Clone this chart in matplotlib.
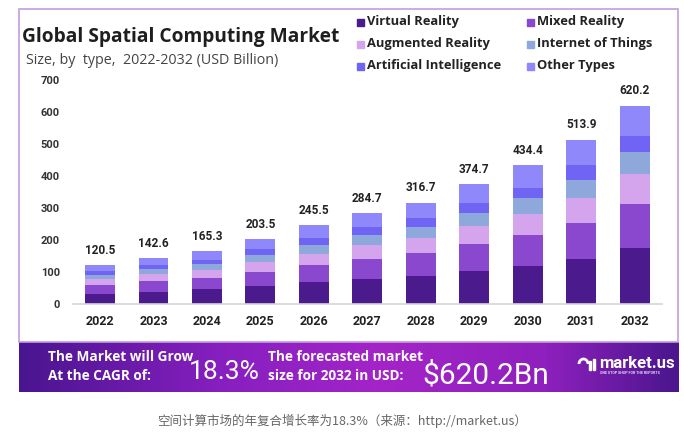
import numpy as np
import matplotlib
matplotlib.use('Agg')
import matplotlib.pyplot as plt
from matplotlib.patches import Rectangle, Arc
from matplotlib.colors import LinearSegmentedColormap

plt.rcParams['font.family'] = ['Roboto', 'DejaVu Sans']
OPEN = ['Open Sans', 'DejaVu Sans']

years = ['2022', '2023', '2024', '2025', '2026', '2027', '2028', '2029', '2030', '2031', '2032']
totals = [120.5, 142.6, 165.3, 203.5, 245.5, 284.7, 316.7, 374.7, 434.4, 513.9, 620.2]

# segment values (USD billion), bottom to top
virtual_reality = [32, 38.5, 45.5, 55, 68.5, 78, 89, 104.5, 119.5, 142, 174]
mixed_reality = [27, 32, 36, 45.5, 53.5, 63.5, 71, 84, 95, 112, 137]
augmented_reality = [19, 22.5, 25.5, 30.5, 34.5, 43, 47.5, 55.5, 67.5, 77, 94]
internet_of_things = [13, 16, 17, 22.5, 28, 30.5, 34.5, 40.5, 48.5, 56, 70]
artificial_intelligence = [13.5, 13.6, 15, 17, 21, 25.2, 26.2, 31.2, 33, 47, 50]
other_types = [16, 20, 26.3, 33, 40, 44.5, 48.5, 59, 71, 80, 95.2]

series = [virtual_reality, mixed_reality, augmented_reality,
          internet_of_things, artificial_intelligence, other_types]
names = ['Virtual Reality', 'Mixed Reality', 'Augmented Reality',
         'Internet of Things', 'Artificial Intelligence', 'Other Types']
colors = ['#4b1a8c', '#8a48cf', '#d4a5ec', '#8fa8dc', '#7064f5', '#8e88fb']

W, H = 684, 437

def fx(x):
    return x / W

def fy(y):
    return 1 - y / H

fig = plt.figure(figsize=(W / 100, H / 100), dpi=100)

# card border
fig.patches.append(Rectangle((fx(19), fy(342)), fx(678) - fx(19), fy(9) - fy(342),
                             transform=fig.transFigure, fill=False,
                             edgecolor='#c49ddb', linewidth=1.2, zorder=0))

ax = fig.add_axes([fx(73), fy(304), fx(662) - fx(73), fy(80) - fy(304)])
x = np.arange(len(years))
bottom = np.zeros(len(years))
for vals, name, c in zip(series, names, colors):
    ax.bar(x, vals, 0.56, bottom=bottom, color=c, label=name, zorder=2)
    bottom += np.array(vals)

for xi, t in zip(x, totals):
    ax.annotate(f'{t:.1f}', (xi, t), xytext=(0, 6), textcoords='offset points',
                ha='center', va='bottom', fontsize=8.5, fontweight='bold', color='#222222')

ax.set_xlim(-0.505, 10.51)
ax.set_ylim(0, 700)
ax.set_yticks(range(0, 701, 100))
ax.set_xticks(x)
ax.set_xticklabels(years)
ax.tick_params(axis='y', length=0, pad=9.5, labelsize=8, labelcolor='#333333')
ax.tick_params(axis='x', length=0, pad=8, labelsize=9, labelcolor='#222222')
for lab in ax.get_xticklabels() + ax.get_yticklabels():
    lab.set_fontweight('bold')
for s in ['top', 'right', 'left']:
    ax.spines[s].set_visible(False)
ax.spines['bottom'].set_color('#d6d6d6')
ax.spines['bottom'].set_linewidth(1.2)

# title
fig.text(fx(22), fy(37), 'Global Spatial Computing Market', family=OPEN,
         fontsize=13.8, fontweight='bold', color='#1e1e1e', va='center', ha='left')
fig.text(fx(26), fy(60), 'Size, by  type,  2022-2032 (USD Billion)', family=OPEN,
         fontsize=10.3, color='#444444', va='center', ha='left')

# legend, two columns
leg_pos = [(357, 22), (527, 22), (357, 44), (527, 44), (357, 66), (527, 66)]
for (lx, ly), name, c in zip(leg_pos, names, colors):
    fig.patches.append(Rectangle((fx(lx), fy(ly + 3.5)), 7 / W, 7 / H,
                                 transform=fig.transFigure, color=c))
    fig.text(fx(lx + 10), fy(ly), name, family=OPEN, fontsize=9.3, fontweight='bold',
             color='#222222', va='center', ha='left')

# bottom banner with gradient
bax = fig.add_axes([fx(19), fy(392), fx(679) - fx(19), fy(342) - fy(392)])
cmap = LinearSegmentedColormap.from_list('banner', [
    (0.0, '#4a1590'), (0.3, '#861fbf'), (0.55, '#a424c8'), (0.8, '#8e20bd'), (1.0, '#4b168e')])
bax.imshow(np.linspace(0, 1, 300).reshape(1, -1), aspect='auto', cmap=cmap,
           extent=[0, 1, 0, 1])
bax.set_axis_off()

fig.text(fx(48), fy(357), 'The Market will Grow', family=OPEN, fontsize=9.8,
         fontweight='bold', color='white', va='center')
fig.text(fx(48), fy(376), 'At the CAGR of:', family=OPEN, fontsize=9.8,
         fontweight='bold', color='white', va='center')
fig.text(fx(189), fy(372), '18.3%', fontsize=19, color='white', va='center')
fig.text(fx(268), fy(357), 'The forecasted market', family=OPEN, fontsize=9.8,
         fontweight='bold', color='white', va='center')
fig.text(fx(268), fy(376), 'size for 2032 in USD:', family=OPEN, fontsize=9.8,
         fontweight='bold', color='white', va='center')
fig.text(fx(422), fy(376), '$620.2Bn', fontsize=21.5, color='white', va='center')

# logo
fig.patches.append(Arc((fx(583.5), fy(364)), 9 / W, 10 / H, theta1=0, theta2=180,
                       transform=fig.transFigure, color='white', linewidth=2))
fig.patches.append(Rectangle((fx(589), fy(370)), 2 / W, 9 / H,
                             transform=fig.transFigure, color='white'))
fig.patches.append(Rectangle((fx(593), fy(370)), 2 / W, 11 / H,
                             transform=fig.transFigure, color='white'))
fig.text(fx(599), fy(363), 'market.us', fontsize=12, fontweight='bold',
         color='white', va='center')
fig.text(fx(600), fy(373.5), 'ONE STOP SHOP FOR THE REPORTS', fontsize=2.6,
         fontweight='bold', color='#e6d6f2', va='center')

# caption
fig.text(0.5, fy(421), '空间计算市场的年复合增长率为18.3%（来源：http://market.us）',
         family=['Noto Sans CJK SC', 'DejaVu Sans'], fontsize=9, color='#666666',
         ha='center', va='center')

fig.savefig('out.png', dpi=100)
